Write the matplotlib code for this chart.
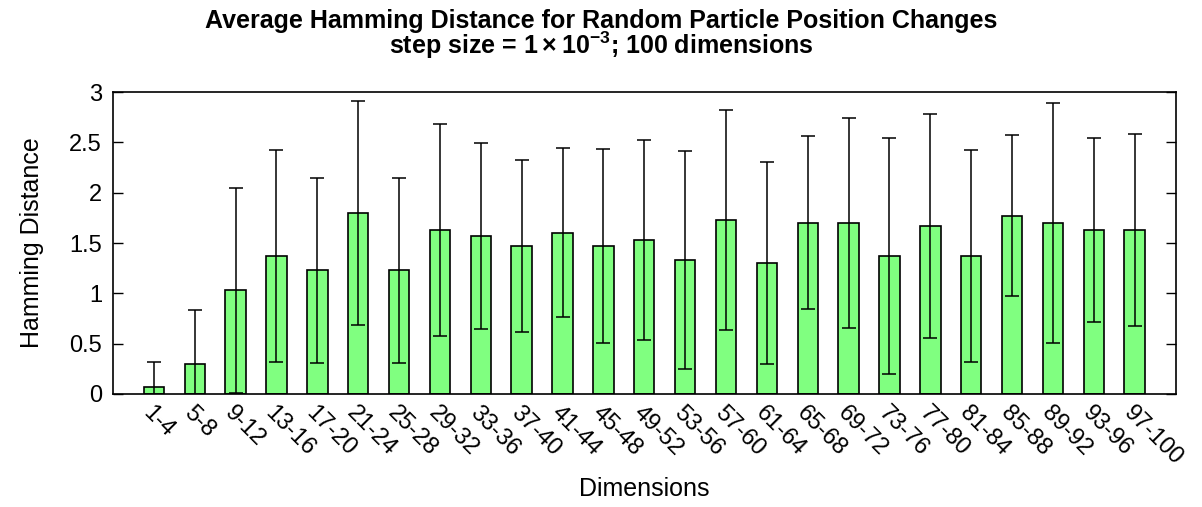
import matplotlib
matplotlib.use("Agg")
import matplotlib.pyplot as plt
import numpy as np

plt.rcParams['font.family'] = ['Liberation Sans', 'DejaVu Sans']
plt.rcParams['mathtext.fontset'] = 'custom'
plt.rcParams['mathtext.rm'] = 'Liberation Sans'
plt.rcParams['mathtext.bf'] = 'Liberation Sans:bold'

categories = ["1-4", "5-8", "9-12", "13-16", "17-20", "21-24", "25-28", "29-32",
              "33-36", "37-40", "41-44", "45-48", "49-52", "53-56", "57-60", "61-64",
              "65-68", "69-72", "73-76", "77-80", "81-84", "85-88", "89-92", "93-96", "97-100"]
means = [0.07, 0.30, 1.03, 1.37, 1.23, 1.80, 1.23, 1.63,
         1.57, 1.47, 1.60, 1.47, 1.53, 1.33, 1.73, 1.30,
         1.70, 1.70, 1.37, 1.67, 1.37, 1.77, 1.70, 1.63, 1.63]
stds = [0.25, 0.53, 1.02, 1.05, 0.92, 1.11, 0.92, 1.05,
        0.92, 0.85, 0.84, 0.96, 0.99, 1.08, 1.09, 1.00,
        0.86, 1.04, 1.17, 1.11, 1.05, 0.80, 1.19, 0.91, 0.95]
yticks = [0, 0.5, 1, 1.5, 2, 2.5, 3]
ytick_labels = ["0", "0.5", "1", "1.5", "2", "2.5", "3"]

fig = plt.figure(figsize=(12.02, 5.07), dpi=100)
ax = fig.add_axes([0.094, 0.2229, 0.884, 0.5956])

x = np.arange(len(categories))
ax.bar(x, means, width=0.5, color="#80ff80", edgecolor="black", linewidth=1.2, zorder=2)
ax.errorbar(x, means, yerr=stds, fmt="none", ecolor="black", elinewidth=1.1,
            capsize=5, capthick=1.1, zorder=3)

ax.set_xlim(-1, len(categories))
ax.set_ylim(0, 3)
ax.set_yticks(yticks)
ax.set_yticklabels(ytick_labels, fontsize=17)
ax.tick_params(axis='y', direction='in', length=7, width=1, right=True, pad=8)
ax.set_xticks(x)
ax.set_xticklabels(categories, fontsize=17, rotation=-45, ha='left', va='top',
                   rotation_mode='anchor')
ax.tick_params(axis='x', length=0, pad=6)
for s in ax.spines.values():
    s.set_linewidth(1.2)

ax.set_ylabel("Hamming Distance", fontsize=18, labelpad=18)
ax.set_xlabel("Dimensions", fontsize=18, labelpad=5)
fig.text(0.5, 1 - 61 / 507,
         "Average Hamming Distance for Random Particle Position Changes\n"
         r"step size = $\mathbf{1\times10^{-3}}$; 100 dimensions",
         fontsize=18, fontweight='bold', linespacing=0.85, ha='center', va='bottom',
         multialignment='center')

fig.savefig("out.png", dpi=100)
